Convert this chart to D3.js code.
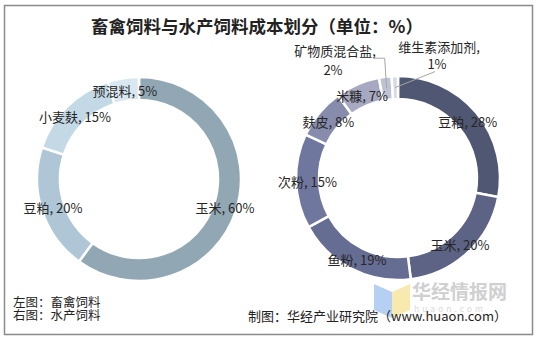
<!DOCTYPE html>
<html><head><meta charset="utf-8">
<script src="https://cdn.jsdelivr.net/npm/d3@7/dist/d3.min.js"></script>
<style>
html,body{margin:0;padding:0;background:#fff;}
svg{display:block;font-family:"Noto Sans CJK SC","Noto Sans",sans-serif;}
</style></head>
<body>
<svg id="chart" width="537" height="339"></svg>
<script>
const title = "畜禽饲料与水产饲料成本划分（单位：%）";
const leftCats = ["玉米", "豆粕", "小麦麸", "预混料"];
const leftVals = [60, 20, 15, 5];
const leftColors = ["#91a7b3", "#aec6d5", "#c4d9e6", "#d9e7f1"];
const rightCats = ["豆粕", "玉米", "鱼粉", "次粉", "麸皮", "米糠", "矿物质混合盐", "维生素添加剂"];
const rightVals = [28, 20, 19, 15, 8, 7, 2, 1];
const rightColors = ["#4f5773", "#5c6384", "#666d93", "#70779e", "#878cad", "#a6a9c1", "#bfc2d3", "#d7d9e4"];
const footLeft = ["左图：畜禽饲料", "右图：水产饲料"];
const source = "制图：华经产业研究院（www.huaon.com）";

const svg = d3.select("#chart");
svg.append("rect").attr("x", 4.5).attr("y", 5.5).attr("width", 528).attr("height", 329)
  .attr("fill", "#fff").attr("stroke", "#8a8a8a").attr("stroke-width", 1.5);

svg.append("text").attr("x", 257).attr("y", 33).attr("text-anchor", "middle")
  .attr("font-size", 17.5).attr("font-weight", "bold").attr("fill", "#222").text(title);

const inner = 79, outer = 102, labelR = 90.5;
const pie = d3.pie().sort(null).value(d => d.v);
const arc = d3.arc().innerRadius(inner).outerRadius(outer);

function donut(cx, cy, cats, vals, colors, outsideCount) {
  const data = cats.map((c, i) => ({c, v: vals[i], col: colors[i]}));
  const arcs = pie(data);
  const g = svg.append("g").attr("transform", `translate(${cx},${cy})`);
  g.selectAll("path").data(arcs).join("path")
    .attr("d", arc).attr("fill", d => d.data.col)
    .attr("stroke", "#fff").attr("stroke-width", 2.5);
  const n = arcs.length;
  arcs.forEach((a, i) => {
    const m = (a.startAngle + a.endAngle) / 2;
    const px = Math.sin(m) * labelR, py = -Math.cos(m) * labelR;
    if (i < n - outsideCount) {
      g.append("text").attr("x", px).attr("y", py + 1).attr("text-anchor", "middle")
        .attr("dominant-baseline", "central").attr("font-size", 13).attr("fill", "#262626")
        .text(`${a.data.c}, ${a.data.v}%`);
    }
  });
  return {g, arcs};
}

donut(139, 179, leftCats, leftVals, leftColors, 0);
const R = donut(398, 178, rightCats, rightVals, rightColors, 2);

// outside labels for the two smallest slices of the right donut
const nR = R.arcs.length;
[{i: nR - 2, dx: -2, dy: -30, tx: -63, ty: -122, hx: -11, l2: 19},
 {i: nR - 1, dx: 40, dy: -16, tx: 41, ty: -126, hx: 0, l2: 17}].forEach(o => {
  const a = R.arcs[o.i];
  const m = (a.startAngle + a.endAngle) / 2;
  const px = Math.sin(m) * labelR, py = -Math.cos(m) * labelR;
  const pts = o.hx ? [[px, py], [px + o.dx, py + o.dy], [px + o.dx + o.hx, py + o.dy]]
                   : [[px, py], [px + o.dx, py + o.dy]];
  R.g.append("path").attr("d", d3.line()(pts)).attr("fill", "none")
    .attr("stroke", "#a6a6a6").attr("stroke-width", 1);
  const t = R.g.append("text").attr("text-anchor", "middle").attr("font-size", 13).attr("fill", "#262626");
  t.append("tspan").attr("x", o.tx).attr("y", o.ty).text(`${a.data.c},`);
  t.append("tspan").attr("x", o.tx - 2).attr("y", o.ty + o.l2).text(`${a.data.v}%`);
});

// watermark
const wm = svg.append("g").attr("opacity", 0.85);
wm.append("path").attr("d", "M374,284 L392,292 L392,318 L374,310 Z").attr("fill", "#a9c8f0");
wm.append("path").attr("d", "M392,292 L410,284 L410,310 L392,318 Z").attr("fill", "#f7e6a0");
wm.append("text").attr("x", 412).attr("y", 299).attr("font-size", 19).attr("font-weight", "bold")
  .attr("fill", "#c8c8c8").text("华经情报网");
wm.append("text").attr("x", 414).attr("y", 312).attr("font-size", 8.5).attr("letter-spacing", 3)
  .attr("fill", "#d4d4d4").text("huaon.com");

// footer
footLeft.forEach((t, i) => {
  svg.append("text").attr("x", 13).attr("y", 306.5 + i * 13.5).attr("font-size", 12.5).attr("fill", "#222").text(t);
});
svg.append("text").attr("x", 507).attr("y", 320.5).attr("text-anchor", "end").attr("font-size", 13)
  .attr("fill", "#222").text(source);
</script>
</body></html>
